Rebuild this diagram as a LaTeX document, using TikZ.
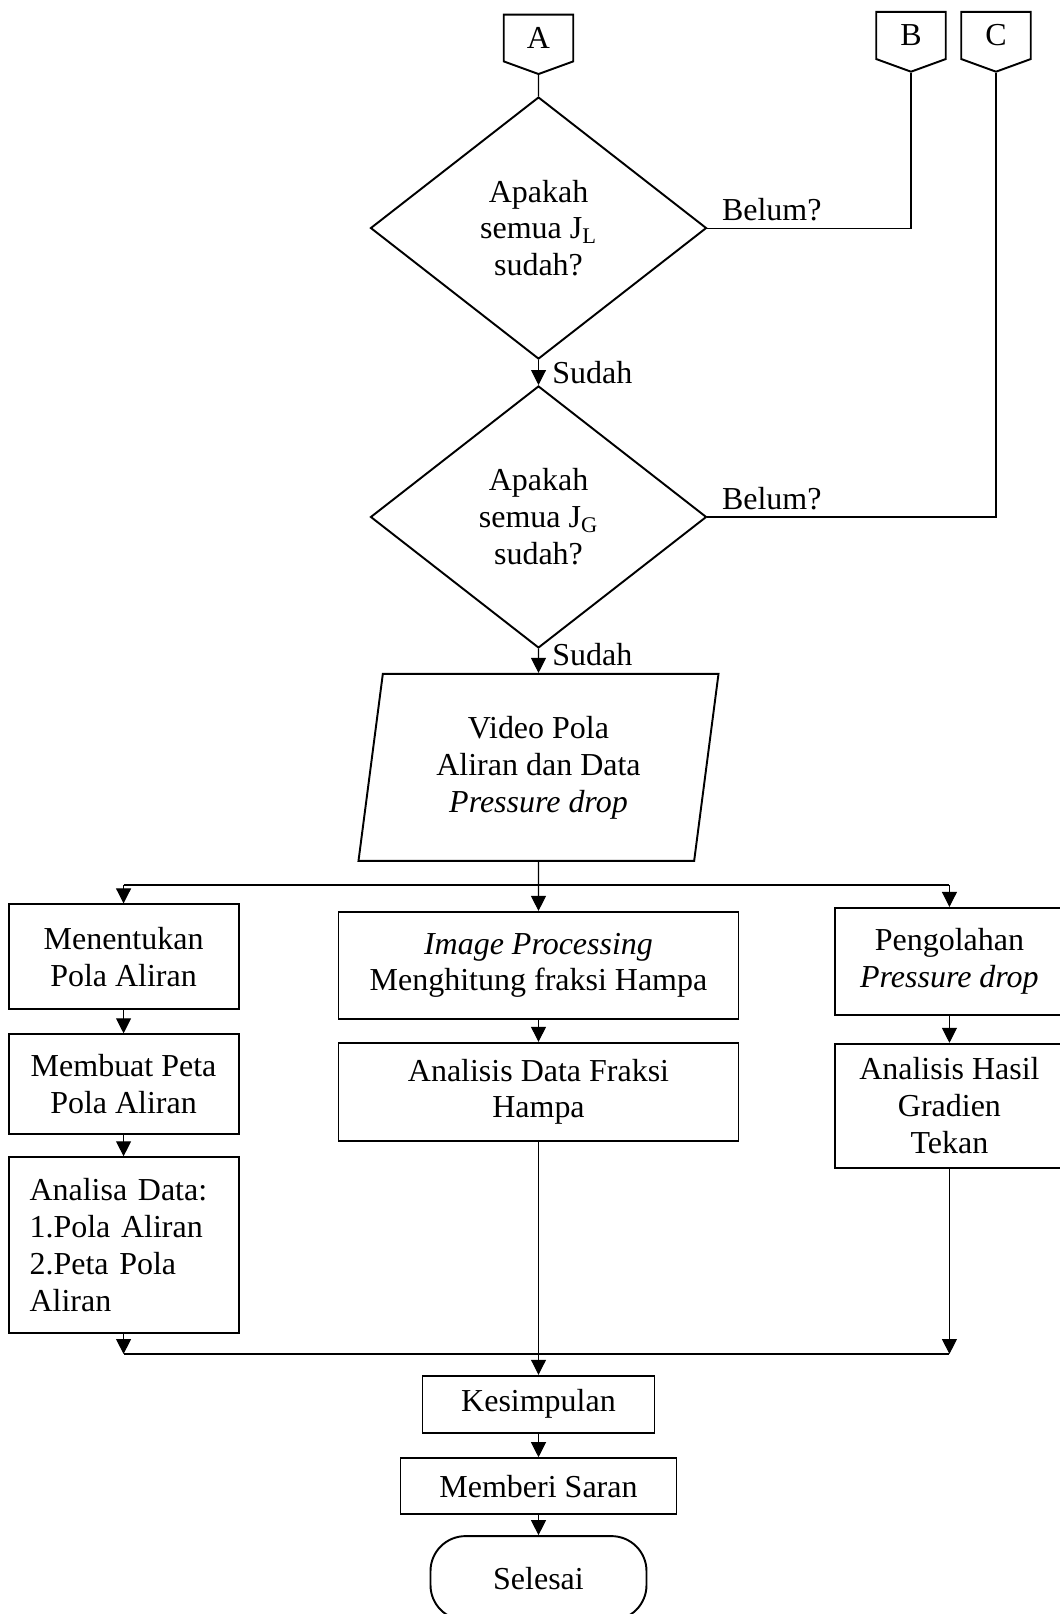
\documentclass[tikz,border=0pt]{standalone}
\usepackage{fontspec}
\setmainfont{Liberation Serif}
\usetikzlibrary{shapes.geometric, shapes.symbols, arrows.meta, positioning}
\tikzstyle{startstop} = [rectangle, rounded corners=0.7cm, minimum width=4.32cm, minimum height=1.68cm, text centered, draw=black, line width=1.1pt]
\tikzstyle{process} = [rectangle, minimum width=4.6cm, align=center, draw=black, line width=1.1pt]
\tikzstyle{decision} = [diamond, minimum width=6.72cm, minimum height=5.24cm, inner sep=0pt, align=center, draw=black, line width=1.1pt]
\tikzstyle{io} = [trapezium, trapezium left angle=78, trapezium right angle=102, trapezium stretches body, minimum width=7.2cm, minimum height=3.74cm, align=center, draw=black, line width=1.1pt]
\tikzstyle{offpage} = [signal, signal to=south, signal pointer angle=140, minimum width=1.39cm, minimum height=1.02cm, inner sep=0pt, draw=black, line width=1.1pt]
\tikzstyle{arrow} = [line width=0.6pt, -{Triangle[length=0.3cm, width=0.3cm]}]
\tikzstyle{line} = [line width=0.6pt]

\begin{document}
\begin{tikzpicture}[node distance=0.5cm, font=\fontsize{18.2}{21}\selectfont]
            \useasboundingbox (0,0) rectangle (21.18,-32.28);
            \node (conA) [offpage] at (10.77,-0.76) {A};
            \node (conB) [offpage] at (18.22,-0.71) {B};
            \node (conC) [offpage] at (19.92,-0.71) {C};
            \node (dec1) [decision, below=0.42cm of conA] {Apakah\\semua J\textsubscript{L}\\sudah?};
            \node (dec2) [decision, below=of dec1] {Apakah\\semua J\textsubscript{G}\\sudah?};
            \node (in1) [io, below=0.48cm of dec2] {Video Pola\\Aliran dan Data\\\textit{Pressure drop}};
            \node (pro2) [process, minimum width=8cm, minimum height=2.14cm, below=0.98cm of in1] {\textit{Image Processing}\\Menghitung fraksi Hampa};
            \node (pro3) [process, minimum width=8cm, minimum height=1.96cm, below=0.44cm of pro2] {Analisis Data Fraksi\\Hampa};
            \node (pro1) [process, minimum height=2.1cm, left=1.96cm of pro2, yshift=0.17cm] {Menentukan\\Pola Aliran};
            \node (pro4) [process, minimum height=2cm, below=0.46cm of pro1] {Membuat Peta\\Pola Aliran};
            \node (pro5) [process, minimum height=3.52cm, text width=3.76cm, align=left, below=0.42cm of pro4] {Analisa Data:\\1.Pola Aliran\\2.Peta Pola\\Aliran};
            \node (pro6) [process, minimum width=4.56cm, minimum height=2.14cm, right=1.9cm of pro2, yshift=0.08cm] {Pengolahan\\\textit{Pressure drop}};
            \node (pro7) [process, minimum width=4.56cm, minimum height=2.48cm, below=0.54cm of pro6] {Analisis Hasil\\Gradien\\Tekan};
            \node (pro8) [process, minimum width=4.64cm, minimum height=1.14cm, below=4.66cm of pro3] {Kesimpulan};
            \node (pro9) [process, minimum width=5.52cm, minimum height=1.12cm, below=0.47cm of pro8] {Memberi Saran};
            \node (stop) [startstop, below=0.4cm of pro9] {Selesai};
            \coordinate (split) at (0,-17.7);
            \coordinate (join) at (0,-27.08);

            \draw [line] (conA) -- (dec1);
            \draw [line] (dec1) -| node[pos=0, anchor=south west, inner sep=0.13cm, xshift=0.15cm] {Belum?} (conB);
            \draw [line] (dec2) -| node[pos=0, anchor=south west, inner sep=0.13cm, xshift=0.15cm] {Belum?} (conC);
            \draw [arrow] (dec1) -- node[anchor=west, xshift=0.15cm] {Sudah} (dec2);
            \draw [arrow] (dec2) -- node[anchor=west, xshift=0.15cm, yshift=0.12cm] {Sudah} (in1);
            \draw [arrow] (in1) -- (pro2);
            \draw [line] (pro1.north |- split) -- (pro6.north |- split);
            \draw [arrow] (pro1.north |- split) -- (pro1);
            \draw [arrow] (pro6.north |- split) -- (pro6);
            \draw [arrow] (pro1) -- (pro4);
            \draw [arrow] (pro4) -- (pro5);
            \draw [arrow] (pro2) -- (pro3);
            \draw [arrow] (pro6) -- (pro7);
            \draw [line] (pro5.south |- join) -- (pro7.south |- join);
            \draw [arrow] (pro5) -- (pro5.south |- join);
            \draw [arrow] (pro7) -- (pro7.south |- join);
            \draw [arrow] (pro3) -- (pro8);
            \draw [arrow] (pro8) -- (pro9);
            \draw [arrow] (pro9) -- (stop);
        \end{tikzpicture}
\end{document}
